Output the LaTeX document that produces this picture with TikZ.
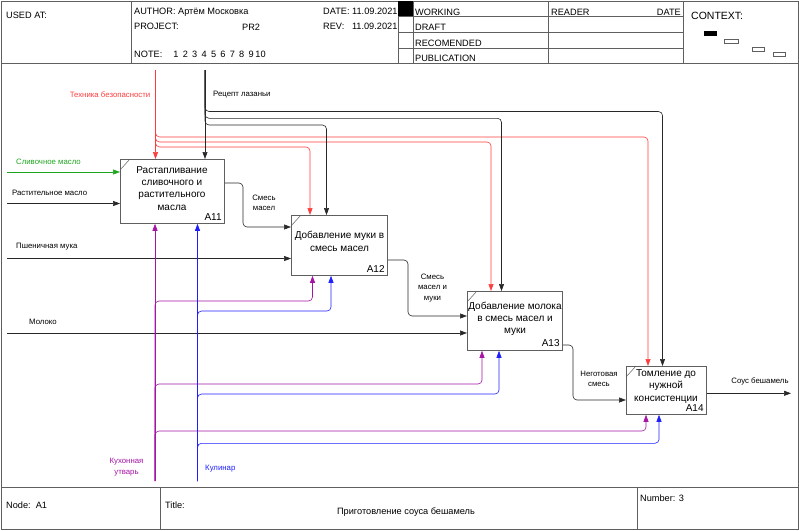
\documentclass[tikz,border=0pt]{standalone}
\usepackage{fontspec}
\setmainfont{Liberation Sans}
\usetikzlibrary{arrows.meta}

\definecolor{ctlred}{RGB}{255,60,60}
\definecolor{mechpurple}{RGB}{165,20,165}
\definecolor{mechblue}{RGB}{30,30,255}
\definecolor{ingreen}{RGB}{30,165,30}
\definecolor{framegray}{RGB}{95,95,95}
\definecolor{flowgray}{RGB}{40,40,40}

\begin{document}
\begin{tikzpicture}[x=1pt,y=-1pt,
  frame/.style={draw=framegray, line width=0.8pt},
  hdr/.style={anchor=base west, inner sep=0pt, font=\fontsize{9.2}{10}\selectfont},
  fn/.style={draw=framegray, line width=0.8pt, anchor=north west, inner sep=0pt},
  fntext/.style={anchor=base, align=center, inner sep=0pt, font=\fontsize{10}{12.1}\selectfont},
  fnid/.style={anchor=south east, inner xsep=3pt, inner ysep=3.6pt, font=\fontsize{10}{12}\selectfont},
  lbl/.style={inner sep=0pt, align=center, font=\fontsize{7.8}{10.4}\selectfont},
  flow/.style={draw=flowgray, line width=0.6pt, rounded corners=4pt,
               -{Triangle[length=7pt,width=5pt]}},
  tick/.style={draw=framegray, line width=0.5pt}
]
\useasboundingbox (0,0) rectangle (799,530);

% ---------- form frame ----------
\draw[frame] (1,1) rectangle (798,529);
\draw[frame] (1,63) -- (798,63);
\draw[frame] (1,487) -- (798,487);
\foreach \xv in {131,398,413,548,683} \draw[frame] (\xv,1) -- (\xv,63);
\foreach \yv in {16,32,48} \draw[frame] (398,\yv) -- (683,\yv);
\fill[black] (398,1) rectangle (413,16);
\draw[frame] (160,487) -- (160,529);
\draw[frame] (637,487) -- (637,529);

% ---------- header ----------
\node[hdr] (usedat) at (6,18.3) {USED AT:};
\node[hdr] (author) at (134,14) {AUTHOR: Артём Московка};
\node[hdr] (date) at (323,14) {DATE: 11.09.2021};
\node[hdr] (project) at (134,29.3) {PROJECT:};
\node[hdr] (pr) at (242,30.5) {PR2};
\node[hdr] (rev) at (323,29.3) {REV:\ \ \ 11.09.2021};
\node[hdr] (note) at (134,57.3) {NOTE:};
\foreach \i in {1,...,10}
  \node[hdr, anchor=base] (note\i) at (176+9.4*\i-9.4,57.3) {\i};
\node[hdr] (working) at (415,15) {WORKING};
\node[hdr] (draft) at (415,30.5) {DRAFT};
\node[hdr] (recom) at (415,46) {RECOMENDED};
\node[hdr] (publ) at (415,61.5) {PUBLICATION};
\node[hdr] (reader) at (551,15) {READER};
\node[hdr, anchor=base east] (rdate) at (681,15) {DATE};
\node[hdr, font=\fontsize{10.5}{12}\selectfont] (context) at (691,19) {CONTEXT:};
\fill[black] (704,31) rectangle (717,35.5);
\draw[tick] (724,39) rectangle (738,43.5);
\draw[tick] (752,47) rectangle (764,51.5);
\draw[tick] (773,52) rectangle (785,56.5);

% ---------- footer ----------
\node[hdr] (nodeid) at (6,508) {Node:\ \ A1};
\node[hdr] (title) at (165,508) {Title:};
\node[hdr, anchor=base] (titletext) at (406,514.5) {Приготовление соуса бешамель};
\node[hdr] (number) at (640,501) {Number: 3};

% ---------- activity boxes ----------
\node[fn, minimum width=104pt, minimum height=64pt] (A11) at (120,159) {};
\node[fn, minimum width=96pt, minimum height=60pt] (A12) at (291,215) {};
\node[fn, minimum width=95pt, minimum height=59pt] (A13) at (467,291) {};
\node[fn, minimum width=80pt, minimum height=48pt] (A14) at (626,366) {};

\foreach \b in {A11,A12,A13,A14}{
  \draw[tick] ([yshift=-11pt]\b.north west) -- ([xshift=10pt]\b.north west);
  \node[fnid] at (\b.south east) {\b};
}

% base anchor of a multi-line node sits on its last line
\node[fntext] (t11) at (172,210) {Растапливание\\сливочного и\\растительного\\масла};
\node[fntext] (t12) at (339.5,251) {Добавление муки в\\смесь масел};
\node[fntext] (t13) at (515,333.5) {Добавление молока\\в смесь масел и\\муки};
\node[fntext] (t14) at (666,401) {Томление до\\нужной\\консистенции};

% ---------- inputs ----------
\coordinate (inButter) at (7,172);
\coordinate (inOil) at (7,203.5);
\coordinate (inFlour) at (7,258.5);
\coordinate (inMilk) at (7,333);
\draw[flow, draw=ingreen, color=ingreen] (inButter) -- (inButter -| A11.west);
\draw[flow] (inOil) -- (inOil -| A11.west);
\draw[flow] (inFlour) -- (inFlour -| A12.west);
\draw[flow] (inMilk) -- (inMilk -| A13.west);
\node[lbl, anchor=base west, text=ingreen] (lButter) at (16,164) {Сливочное масло};
\node[lbl, anchor=base west] (lOil) at (12,195.5) {Растительное масло};
\node[lbl, anchor=base west] (lFlour) at (16,248.3) {Пшеничная мука};
\node[lbl, anchor=base west] (lMilk) at (29,324) {Молоко};

% ---------- flows between activities ----------
\draw[flow] (A11.east |- 0,183) -- (243,183) -- (243,227) -- (A12.west |- 0,227);
\draw[flow] (A12.east |- 0,260) -- (408,260) -- (408,316) -- (A13.west |- 0,316);
\draw[flow] (A13.east |- 0,345) -- (573,345) -- (573,400) -- (A14.west |- 0,400);
\coordinate (outSauce) at (791,393.3);
\draw[flow] (A14.east |- 0,393.3) -- (outSauce);
\node[lbl, anchor=base] (lMix1) at (264,210.7) {Смесь\\масел};
\node[lbl, anchor=base] (lMix2) at (432.5,300) {Смесь\\масел и\\муки};
\node[lbl, anchor=base] (lMix3) at (599,386.7) {Неготовая\\смесь};
\node[lbl, anchor=base] (lSauce) at (760,383.3) {Соус бешамель};

% ---------- controls ----------
\coordinate (ctlSafety) at (155.5,70);
\coordinate (ctlRecipe) at (205,70);
\draw[flow, draw=ctlred, color=ctlred] (ctlSafety) -- (ctlSafety |- A11.north);
\draw[flow, draw=ctlred, color=ctlred] (ctlSafety) |- (648,137) -- (A14.north -| 648,0);
\draw[flow, draw=ctlred, color=ctlred] (ctlSafety) |- (491,142) -- (A13.north -| 491,0);
\draw[flow, draw=ctlred, color=ctlred] (ctlSafety) |- (310,147) -- (A12.north -| 310,0);
\draw[flow] (ctlRecipe) -- (ctlRecipe |- A11.north);
\draw[flow] (ctlRecipe) |- (662.5,111.5) -- (A14.north -| 662.5,0);
\draw[flow] (ctlRecipe) |- (501.5,118.3) -- (A13.north -| 501.5,0);
\draw[flow] (ctlRecipe) |- (326.5,125) -- (A12.north -| 326.5,0);
\node[lbl, anchor=base east, text=ctlred] (lSafety) at (150.5,97) {Техника безопасности};
\node[lbl, anchor=base west] (lRecipe) at (213,96.5) {Рецепт лазаньи};

% ---------- mechanisms ----------
\coordinate (mechTools) at (155,481);
\coordinate (mechCook) at (197.5,481);
\draw[flow, draw=mechpurple, color=mechpurple] (mechTools) -- (mechTools |- A11.south);
\draw[flow, draw=mechpurple, color=mechpurple] (mechTools) |- (312.5,301) -- (A12.south -| 312.5,0);
\draw[flow, draw=mechpurple, color=mechpurple] (mechTools) |- (482,384) -- (A13.south -| 482,0);
\draw[flow, draw=mechpurple, color=mechpurple] (mechTools) |- (646,431) -- (A14.south -| 646,0);
\draw[flow, draw=mechblue, color=mechblue] (mechCook) -- (mechCook |- A11.south);
\draw[flow, draw=mechblue, color=mechblue] (mechCook) |- (331,311) -- (A12.south -| 331,0);
\draw[flow, draw=mechblue, color=mechblue] (mechCook) |- (499,394) -- (A13.south -| 499,0);
\draw[flow, draw=mechblue, color=mechblue] (mechCook) |- (659,443.3) -- (A14.south -| 659,0);
\node[lbl, anchor=base, text=mechpurple] (lTools) at (126.5,474) {Кухонная\\утварь};
\node[lbl, anchor=base west, text=mechblue] (lCook) at (205,470.7) {Кулинар};

\end{tikzpicture}
\end{document}
